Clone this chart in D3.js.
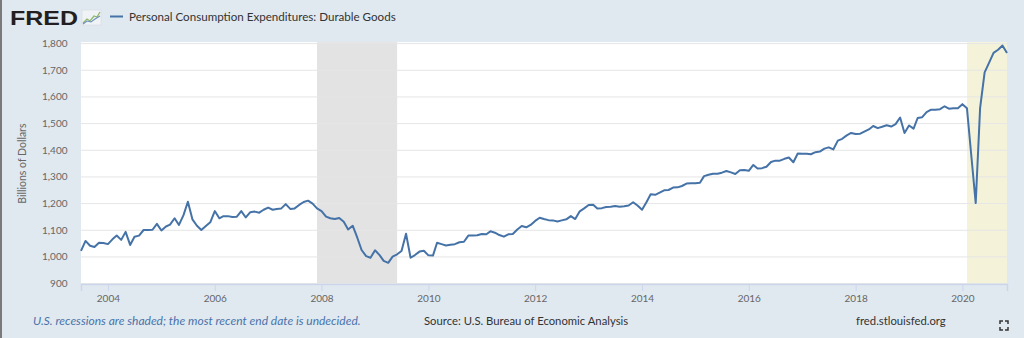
<!DOCTYPE html>
<html>
<head>
<meta charset="utf-8">
<script src="https://cdn.jsdelivr.net/npm/d3@7"></script>
<style>
  html, body { margin: 0; padding: 0; background: #e1e9f0; }
  svg { display: block; font-family: Lato, "Open Sans", sans-serif; }
</style>
</head>
<body>
<script>
// Personal Consumption Expenditures: Durable Goods, monthly, billions of dollars
const seriesName = "Personal Consumption Expenditures: Durable Goods"
const firstMonth = new Date(2003, 6, 1)
const pce = [
  1023, 1060, 1042, 1037, 1053, 1052,                                     // 2003 Jul-Dec
  1048, 1066, 1080, 1064, 1094, 1045, 1076, 1080, 1101, 1101, 1102, 1124, // 2004
  1099, 1114, 1121, 1145, 1120, 1157, 1207, 1141, 1117, 1101, 1116, 1130, // 2005
  1172, 1145, 1153, 1153, 1150, 1151, 1172, 1148, 1168, 1170, 1166, 1177, // 2006
  1185, 1177, 1180, 1182, 1198, 1180, 1182, 1195, 1206, 1211, 1200, 1182, // 2007
  1172, 1151, 1145, 1142, 1146, 1132, 1103, 1117, 1073, 1026, 1003, 997,  // 2008
  1025, 1007, 985, 978, 1001, 1010, 1022, 1087, 997, 1007, 1020, 1023,    // 2009
  1006, 1005, 1053, 1048, 1043, 1046, 1048, 1055, 1057, 1080, 1080, 1081, // 2010
  1086, 1085, 1096, 1091, 1082, 1076, 1085, 1086, 1103, 1116, 1111, 1120, // 2011
  1135, 1147, 1142, 1138, 1137, 1133, 1137, 1141, 1153, 1142, 1171, 1182, // 2012
  1195, 1196, 1182, 1183, 1187, 1188, 1191, 1188, 1190, 1193, 1205, 1193, // 2013
  1177, 1206, 1235, 1233, 1241, 1250, 1251, 1260, 1261, 1266, 1275, 1276, // 2014
  1276, 1278, 1303, 1308, 1312, 1312, 1316, 1322, 1317, 1311, 1325, 1326, // 2015
  1323, 1345, 1332, 1333, 1338, 1356, 1361, 1361, 1368, 1373, 1355, 1388, // 2016
  1387, 1387, 1385, 1393, 1395, 1406, 1411, 1403, 1436, 1443, 1456, 1465, // 2017
  1461, 1462, 1470, 1478, 1491, 1483, 1488, 1494, 1489, 1498, 1523, 1465, // 2018
  1493, 1481, 1521, 1524, 1543, 1552, 1552, 1554, 1565, 1556, 1558, 1558, // 2019
  1573, 1558, 1385, 1202, 1558, 1692, 1728, 1765, 1777, 1793, 1765        // 2020 Jan-Nov
]
const recessions = [["2007-12-01", "2009-06-01"]]
const openRecessionStart = "2020-02-01"
const yTicks = [900, 1000, 1100, 1200, 1300, 1400, 1500, 1600, 1700, 1800]
const xTickYears = [2004, 2006, 2008, 2010, 2012, 2014, 2016, 2018, 2020]

const w = 1024
const h = 338
const plotLeft = 81
const plotRight = 1007
const plotTop = 43.6
const plotBottom = 283.6

const data = pce.map((v, i) => ({ date: d3.timeMonth.offset(firstMonth, i), value: v }))
const parse = d3.timeParse("%Y-%m-%d")

const svg = d3.select("body").append("svg").attr("width", w).attr("height", h)

svg.append("rect").attr("width", w).attr("height", h).attr("fill", "#e1e9f0")
svg.append("rect").attr("x", 0).attr("y", 0).attr("width", 2).attr("height", h).attr("fill", "#7a7a7a")

const xScale = d3
  .scaleTime()
  .domain(d3.extent(data, (d) => d.date))
  .range([plotLeft, plotRight])

const yScale = d3.scaleLinear().domain([900, 1800]).range([plotBottom, plotTop])

// plot background
svg
  .append("rect")
  .attr("x", plotLeft)
  .attr("y", plotTop - 1.5)
  .attr("width", plotRight - plotLeft)
  .attr("height", plotBottom - plotTop + 1.5)
  .attr("fill", "#ffffff")

// recession shading
svg
  .selectAll("rect.recession")
  .data(recessions)
  .enter()
  .append("rect")
  .attr("class", "recession")
  .attr("x", (d) => xScale(parse(d[0])))
  .attr("width", (d) => xScale(parse(d[1])) - xScale(parse(d[0])))
  .attr("y", plotTop - 1.5)
  .attr("height", plotBottom - plotTop + 1.5)
  .attr("fill", "#e3e3e3")

svg
  .append("rect")
  .attr("x", xScale(parse(openRecessionStart)))
  .attr("width", plotRight - xScale(parse(openRecessionStart)))
  .attr("y", plotTop - 1.5)
  .attr("height", plotBottom - plotTop + 1.5)
  .attr("fill", "#f4f3da")

// horizontal grid
svg
  .selectAll("line.grid")
  .data(yTicks)
  .enter()
  .append("line")
  .attr("class", "grid")
  .attr("x1", plotLeft)
  .attr("x2", plotRight)
  .attr("y1", (d) => yScale(d))
  .attr("y2", (d) => yScale(d))
  .attr("stroke", "#e6e6e6")
  .attr("stroke-width", 1)

// y tick labels
svg
  .selectAll("text.ytick")
  .data(yTicks)
  .enter()
  .append("text")
  .attr("class", "ytick")
  .attr("x", 67.5)
  .attr("y", (d) => yScale(d) + 3.5)
  .attr("text-anchor", "end")
  .attr("font-size", "10px")
  .attr("fill", "#666")
  .text((d) => d3.format(",")(d))

svg
  .append("text")
  .attr("transform", `translate(25.5,${(plotTop + plotBottom) / 2}) rotate(-90)`)
  .attr("text-anchor", "middle")
  .attr("font-size", "10.5px")
  .attr("fill", "#666")
  .text("Billions of Dollars")

// x axis
const xAxis = d3
  .axisBottom(xScale)
  .tickValues(xTickYears.map((y) => new Date(y, 0, 1)))
  .tickFormat(d3.timeFormat("%Y"))
  .tickSize(7)
  .tickPadding(4)

const gx = svg.append("g").attr("transform", `translate(0,${plotBottom + 0.5})`).call(xAxis)
gx.select(".domain").attr("stroke", "#ccd6eb").attr("stroke-width", 1.5)
gx.selectAll(".tick line").attr("stroke", "#ccd6eb")
gx.selectAll(".tick text")
  .attr("font-family", "Lato, sans-serif")
  .attr("font-size", "10px")
  .attr("fill", "#666")

// series line
const line = d3
  .line()
  .x((d) => xScale(d.date))
  .y((d) => yScale(d.value))

svg
  .append("path")
  .datum(data)
  .attr("d", line)
  .attr("fill", "none")
  .attr("stroke", "#4572a7")
  .attr("stroke-width", 2)
  .attr("stroke-linejoin", "round")

// header: logo, icon, legend
svg
  .append("text")
  .attr("x", 10)
  .attr("y", 25)
  .attr("font-family", "'Liberation Sans', Arial, sans-serif")
  .attr("font-weight", "bold")
  .attr("font-size", "21px")
  .attr("fill", "#231f20")
  .attr("textLength", 68)
  .attr("lengthAdjust", "spacingAndGlyphs")
  .text("FRED")

const icon = svg.append("g").attr("transform", "translate(82,10)")
icon.append("rect").attr("width", 19).attr("height", 15).attr("fill", "#f0f3f6").attr("stroke", "#d5dbe2").attr("stroke-width", 0.6)
icon
  .append("polyline")
  .attr("points", "1,13 5,9 8,11 12,6 15,7 18,2")
  .attr("fill", "none")
  .attr("stroke", "#8fb86a")
  .attr("stroke-width", 1.3)
icon
  .append("polyline")
  .attr("points", "1,14 5,11 9,12 13,9 18,6")
  .attr("fill", "none")
  .attr("stroke", "#6d8fbf")
  .attr("stroke-width", 1.1)

svg
  .append("line")
  .attr("x1", 110)
  .attr("x2", 123)
  .attr("y1", 16.5)
  .attr("y2", 16.5)
  .attr("stroke", "#4572a7")
  .attr("stroke-width", 2)

svg
  .append("text")
  .attr("x", 129)
  .attr("y", 20.5)
  .attr("font-size", "11.6px")
  .attr("fill", "#333")
  .text(seriesName)

// footer
svg
  .append("text")
  .attr("x", 33)
  .attr("y", 325)
  .attr("font-size", "12px")
  .attr("font-style", "italic")
  .attr("fill", "#4a73ab")
  .text("U.S. recessions are shaded; the most recent end date is undecided.")

svg
  .append("text")
  .attr("x", 424)
  .attr("y", 325)
  .attr("font-size", "11.3px")
  .attr("fill", "#333")
  .text("Source: U.S. Bureau of Economic Analysis")

svg
  .append("text")
  .attr("x", 856)
  .attr("y", 325)
  .attr("font-size", "11.3px")
  .attr("fill", "#333")
  .text("fred.stlouisfed.org")

// fullscreen icon
const fs = svg.append("g").attr("transform", "translate(1000,321)").attr("stroke", "#333").attr("stroke-width", 1.5).attr("fill", "none")
fs.append("path").attr("d", "M0,3V0H3")
fs.append("path").attr("d", "M5,0H8V3")
fs.append("path").attr("d", "M0,6V9H3")
fs.append("path").attr("d", "M5,9H8V6")
</script>
</body>
</html>
